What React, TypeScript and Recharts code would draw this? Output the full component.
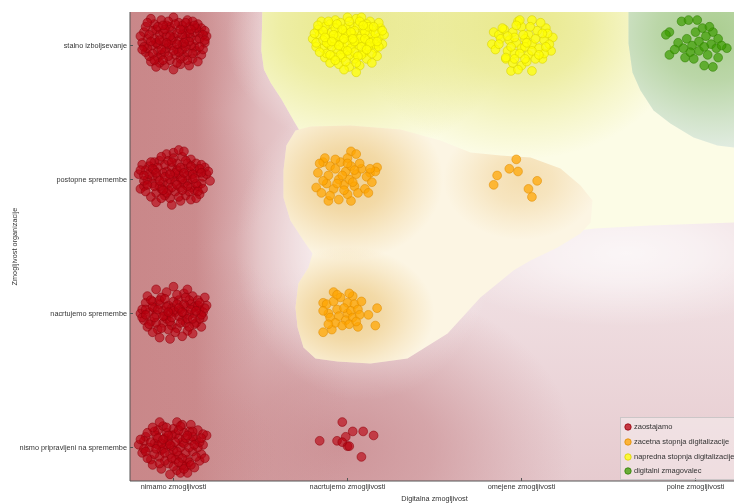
import React from 'react';
import { ScatterChart, Scatter, XAxis, YAxis, ReferenceArea, Legend } from 'recharts';

type Pt = [number, number];

const xCategories = ['nimamo zmogljivosti', 'nacrtujemo zmogljivosti', 'omejene zmogljivosti', 'polne zmogljivosti'];
const yCategories = ['nismo pripravljeni na spremembe', 'nacrtujemo spremembe', 'postopne spremembe', 'stalno izboljsevanje'];
const seriesNames = ['zaostajamo', 'zacetna stopnja digitalizacije', 'napredna stopnja digitalizacije', 'digitalni zmagovalec'];

// zaostajamo – jittered points
const zaostajamoStalno: Pt[] = [[-0.15,3.05],[-0.10,3.12],[-0.04,3.15],[0.03,3.17],[0.09,3.14],[0.15,3.10],[0.18,3.02],[0.13,2.96],[0.06,2.92],[-0.02,2.89],[-0.09,2.91],[-0.16,2.95],[-0.12,3.00],[-0.06,3.03],[0.00,3.06],[0.05,3.01],[0.10,3.06],[0.02,2.97],[-0.04,2.98],[-0.08,3.08],[0.07,3.09],[0.12,2.99],[-0.17,3.10],[-0.13,2.88],[-0.05,2.85],[0.04,2.86],[0.11,2.90],[0.16,2.93],[0.19,3.07],[-0.01,3.11],[-0.11,3.16],[0.00,3.21],[0.08,3.19],[-0.07,3.19],[0.14,3.16],[-0.18,3.02],[-0.14,2.92],[-0.03,3.01],[0.03,3.04],[0.08,2.95],[-0.09,2.96],[0.01,2.93],[-0.06,3.10],[0.06,3.12],[-0.12,3.11],[0.13,3.04],[-0.02,3.14],[0.10,3.00],[-0.15,2.98],[0.17,2.97],[0.04,2.90],[-0.08,2.87],[0.00,2.82],[-0.10,2.84],[0.09,2.85],[0.16,3.13],[-0.16,3.14],[-0.04,3.07],[0.02,3.09],[0.07,3.05],[-0.11,3.05],[0.12,3.10],[-0.01,3.00],[0.05,2.97],[-0.07,2.93],[0.18,3.11],[-0.19,3.07],[0.11,3.18],[-0.13,3.20],[0.05,3.15],[-0.05,2.95],[0.14,2.88],[-0.03,3.18],[0.09,3.09],[-0.09,3.01],
  [-0.17,2.99],[-0.14,3.08],[-0.12,2.94],[-0.10,3.02],[-0.07,2.97],[-0.05,3.12],[-0.03,2.92],[-0.01,3.04],[0.01,3.16],[0.03,2.95],[0.05,3.08],[0.07,2.99],[0.09,3.03],[0.11,2.94],[0.13,3.13],[0.15,3.05],[0.17,3.08],[-0.15,3.17],[-0.09,3.14],[-0.06,2.89],[0.02,2.87],[0.08,2.89],[0.12,3.15],[-0.02,3.07],[0.04,3.12],[-0.11,2.89],[0.15,2.99],[-0.18,2.97],[0.00,2.96],[-0.08,3.04],[0.06,3.02],[0.10,3.12],[-0.04,3.02],[0.02,3.01],[-0.13,3.03],[0.18,3.04],[-0.06,3.15],[0.07,3.17]];
const zaostajamoPostopne: Pt[] = [[-0.20,2.04],[-0.17,1.95],[-0.14,2.10],[-0.12,2.02],[-0.10,1.90],[-0.08,2.14],[-0.06,1.98],[-0.04,2.06],[-0.02,1.86],[0.00,2.02],[0.02,2.12],[0.04,1.94],[0.06,2.08],[0.08,1.99],[0.10,2.15],[0.12,1.92],[0.14,2.05],[0.16,1.97],[0.18,2.09],[0.21,1.99],[-0.18,2.11],[-0.15,2.00],[-0.13,1.87],[-0.11,2.07],[-0.07,1.93],[-0.05,2.11],[-0.03,1.97],[-0.01,2.09],[0.01,1.91],[0.03,2.04],[0.05,2.17],[0.07,1.88],[0.09,2.06],[0.11,2.00],[0.13,2.12],[0.15,1.89],[0.17,2.02],[-0.19,1.93],[-0.16,2.07],[-0.09,2.02],[-0.04,2.19],[0.00,2.20],[0.03,2.22],[0.06,2.21],[-0.07,2.17],[0.10,1.85],[0.04,1.84],[-0.01,1.81],[-0.10,1.83],[0.13,1.86],[-0.12,1.97],[0.08,2.03],[-0.02,2.00],[0.02,2.07],[-0.06,2.05],[0.12,2.08],[-0.14,2.04],[0.16,2.11],[0.19,2.04],[-0.08,1.95],[0.06,1.97],[-0.03,1.92],[0.10,1.94],[0.01,1.98],[-0.17,1.99],[0.14,1.95],[-0.05,1.88],[0.08,2.12],[-0.11,2.13],[0.04,2.01],
  [-0.19,2.07],[-0.16,1.91],[-0.13,2.13],[-0.11,1.95],[-0.09,2.09],[-0.07,1.86],[-0.05,2.02],[-0.03,2.14],[-0.01,1.94],[0.01,2.05],[0.03,1.87],[0.05,2.00],[0.07,2.14],[0.09,1.91],[0.11,2.04],[0.13,1.97],[0.15,2.08],[0.17,1.93],[0.20,2.06],[-0.15,1.96],[-0.12,2.08],[-0.08,1.99],[-0.04,1.90],[0.00,2.16],[0.04,2.09],[0.08,1.95],[0.12,2.01],[0.16,2.05],[-0.17,2.03],[-0.02,2.04],[0.02,1.96],[0.06,2.05],[-0.06,1.92],[0.10,2.10],[-0.10,2.05],[0.14,1.91],[-0.01,2.13],[0.05,1.92]];
const zaostajamoNacrtujemo: Pt[] = [[-0.19,1.00],[-0.16,1.08],[-0.13,0.94],[-0.11,1.04],[-0.09,0.88],[-0.07,1.12],[-0.05,0.98],[-0.03,1.06],[-0.01,0.91],[0.01,1.01],[0.03,1.10],[0.05,0.95],[0.07,1.05],[0.09,0.99],[0.11,1.13],[0.13,0.93],[0.15,1.03],[0.17,0.97],[0.19,1.06],[-0.17,0.95],[-0.14,1.01],[-0.12,0.86],[-0.08,1.07],[-0.06,0.93],[-0.04,1.16],[-0.02,1.00],[0.00,1.09],[0.02,0.89],[0.04,1.03],[0.06,1.15],[0.08,0.87],[0.10,1.07],[0.12,1.00],[0.14,1.10],[0.16,0.90],[-0.10,1.18],[0.00,1.20],[0.08,1.18],[-0.02,0.81],[0.05,0.83],[-0.08,0.82],[0.11,0.85],[-0.15,1.13],[0.18,1.12],[-0.04,0.96],[0.03,0.98],[-0.10,0.99],[0.07,0.93],[-0.01,1.04],[0.12,1.05],[-0.06,1.02],[0.15,0.96],[-0.12,1.09],[0.02,1.14],[-0.18,1.03],[0.09,1.10],[-0.03,0.88],[0.06,1.00],[-0.15,0.90],[0.17,1.01],
  [-0.18,0.97],[-0.16,1.03],[-0.14,0.92],[-0.12,1.05],[-0.10,0.93],[-0.08,1.10],[-0.06,0.98],[-0.04,1.05],[-0.02,0.94],[0.00,1.02],[0.02,1.07],[0.04,0.93],[0.06,1.07],[0.08,0.96],[0.10,1.03],[0.12,0.92],[0.14,1.06],[0.16,0.99],[0.18,1.04],[-0.13,1.10],[-0.09,1.03],[-0.05,1.11],[-0.01,0.97],[0.03,1.04],[0.07,1.12],[0.11,0.96],[0.15,1.08],[-0.07,0.89],[0.01,0.86],[0.09,0.90],[-0.11,0.97],[0.05,1.01],[-0.03,1.01],[0.13,1.02],[-0.16,0.99]];
const zaostajamoNismo: Pt[] = [[-0.20,0.02],[-0.18,-0.04],[-0.16,0.08],[-0.13,-0.09],[-0.11,0.03],[-0.09,0.13],[-0.07,-0.02],[-0.05,0.07],[-0.03,-0.12],[-0.01,0.01],[0.01,0.10],[0.03,-0.06],[0.05,0.04],[0.07,-0.14],[0.09,0.12],[0.11,-0.03],[0.13,0.06],[0.15,-0.10],[0.17,0.02],[0.19,0.09],[-0.17,0.05],[-0.14,0.00],[-0.12,-0.13],[-0.10,0.09],[-0.08,-0.07],[-0.06,0.16],[-0.04,0.02],[-0.02,-0.05],[0.00,0.14],[0.02,-0.17],[0.04,0.00],[0.06,0.11],[0.08,-0.09],[0.10,0.05],[0.12,-0.15],[0.14,0.13],[0.16,-0.05],[-0.08,0.19],[0.02,0.19],[0.10,0.17],[0.05,0.17],[-0.02,-0.20],[0.04,-0.19],[-0.07,-0.16],[0.08,-0.19],[-0.15,-0.08],[0.18,-0.08],[-0.03,0.05],[0.00,-0.02],[0.06,0.03],[-0.09,0.02],[0.11,0.08],[-0.05,-0.10],[0.03,0.07],[-0.11,0.12],[0.14,0.00],[-0.01,0.09],[0.07,-0.04],[-0.04,0.11],[0.01,-0.09],[-0.06,-0.01],[0.09,-0.11],[0.05,-0.13],
  [-0.19,0.06],[-0.17,-0.01],[-0.15,0.11],[-0.13,0.04],[-0.11,-0.05],[-0.09,0.07],[-0.07,0.03],[-0.05,-0.04],[-0.03,0.09],[-0.01,-0.08],[0.01,0.04],[0.03,0.13],[0.05,-0.08],[0.07,0.07],[0.09,0.00],[0.11,0.12],[0.13,-0.07],[0.15,0.04],[0.17,0.10],[-0.12,0.15],[-0.04,0.15],[0.04,0.16],[0.12,0.02],[-0.08,-0.12],[0.00,-0.14],[0.06,-0.16],[0.10,-0.13],[-0.02,0.02],[0.02,-0.03],[-0.06,0.06],[0.08,0.09],[-0.10,-0.01],[0.16,0.07],[-0.16,-0.03],[0.03,-0.11]];
const zaostajamoDigital: Pt[] = [[0.84,0.05],[0.97,0.19],[1.03,0.12],[1.09,0.12],[1.15,0.09],[0.94,0.05],[0.99,0.08],[0.97,0.04],[1.00,0.01],[1.01,0.01],[1.08,-0.07]];

// zacetna stopnja digitalizacije
const zacetnaPostopne: Pt[] = [[1.02,2.21],[1.05,2.19],[1.00,2.16],[0.86,2.13],[0.83,2.05],[0.82,1.94],[0.89,1.84],[1.02,1.84],[1.17,2.09],[1.13,2.05],[0.87,2.16],[0.84,2.12],[0.90,2.10],[0.93,2.08],[0.96,2.13],[0.99,2.06],[1.02,2.10],[1.05,2.04],[1.08,2.08],[1.11,2.02],[1.14,1.98],[1.16,2.06],[0.95,2.00],[0.98,1.96],[1.01,2.00],[1.04,1.95],[0.92,1.93],[0.88,1.97],[0.85,1.90],[0.90,1.88],[0.95,1.85],[1.00,1.89],[1.06,1.90],[1.10,1.93],[1.13,2.08],[0.97,2.03],[1.03,1.98],[0.93,2.15],[1.00,2.12],[1.07,2.12],[0.89,2.03],[0.86,1.99],[1.12,1.90],[0.98,1.92],[1.04,2.07],[0.94,1.97]];
const zacetnaNacrtujemo: Pt[] = [[0.92,1.16],[1.03,1.13],[0.86,1.08],[1.17,1.04],[1.12,0.99],[1.16,0.91],[1.06,0.90],[0.86,0.86],[0.91,0.88],[1.00,1.00],[0.89,1.00],[0.88,1.07],[0.92,1.09],[0.96,1.12],[1.00,1.08],[1.04,1.07],[1.08,1.09],[0.94,1.03],[0.98,1.04],[1.02,1.02],[1.06,1.03],[0.90,0.97],[0.95,0.98],[0.99,0.95],[1.03,0.97],[1.07,0.99],[0.93,0.93],[0.97,0.91],[1.01,0.92],[1.05,0.94],[0.89,0.92],[0.94,1.14],[1.01,1.15],[0.86,1.02]];
const zacetnaOmejene: Pt[] = [[1.97,2.15],[1.93,2.08],[1.98,2.06],[1.86,2.03],[1.84,1.96],[2.09,1.99],[2.04,1.93],[2.06,1.87]];

// napredna stopnja digitalizacije
const naprednaNacrtujemo: Pt[] = [[0.80,3.05],[0.83,3.12],[0.86,2.98],[0.88,3.08],[0.90,3.16],[0.92,2.92],[0.94,3.02],[0.96,3.10],[0.98,2.96],[1.00,3.06],[1.02,3.14],[1.04,2.90],[1.06,3.00],[1.08,3.08],[1.10,2.95],[1.12,3.04],[1.14,3.12],[1.16,2.98],[1.18,3.06],[1.20,3.01],[0.82,2.99],[0.85,3.18],[0.87,2.91],[0.89,3.01],[0.91,3.10],[0.93,3.19],[0.95,2.86],[0.97,3.04],[0.99,3.13],[1.01,2.93],[1.03,3.02],[1.05,3.20],[1.07,2.85],[1.09,3.12],[1.11,2.90],[1.13,3.18],[1.15,3.05],[1.17,2.92],[1.19,3.13],[0.84,3.08],[0.92,3.05],[0.97,2.99],[1.00,3.01],[1.03,3.08],[1.06,3.15],[1.09,3.03],[1.12,2.99],[0.88,2.94],[0.94,2.97],[1.01,2.84],[0.98,2.82],[1.05,2.80],[0.90,2.87],[1.14,2.87],[1.00,3.21],[0.96,3.17],[1.08,3.21],[1.11,3.16],[0.87,3.14],[1.18,3.17],[0.82,3.02],[1.21,3.08],[0.95,3.07],[1.02,2.98],[1.07,3.05],[0.91,2.99],[1.04,3.11],[0.99,3.09],[1.13,3.09],[0.86,3.04],[1.16,3.01],[0.93,3.13],[1.10,3.10],[0.97,2.91],[1.04,2.95],[1.08,2.93],
  [0.81,3.09],[0.84,2.95],[0.86,3.11],[0.88,3.02],[0.90,2.93],[0.92,3.08],[0.94,3.16],[0.96,2.93],[0.98,3.05],[1.00,2.96],[1.02,3.10],[1.04,3.03],[1.06,2.92],[1.08,2.99],[1.10,3.05],[1.12,3.14],[1.14,2.94],[1.16,3.09],[1.18,2.99],[1.20,3.11],[0.83,3.15],[0.89,3.18],[0.95,3.00],[1.01,3.18],[1.07,3.18],[1.13,3.02],[0.93,2.89],[0.99,2.88],[1.05,2.87],[1.11,2.97],[0.87,3.06],[1.03,3.05],[0.97,3.12],[1.09,3.15],[1.15,3.14],[0.91,3.03],[1.17,3.03]];
const naprednaOmejene: Pt[] = [[1.84,3.10],[1.87,3.08],[1.98,3.18],[2.06,3.19],[2.14,3.13],[2.18,3.06],[2.17,2.96],[2.12,2.90],[2.06,2.81],[1.94,2.81],[1.91,2.90],[1.83,3.01],[1.85,2.97],[1.90,3.12],[1.95,3.10],[2.00,3.14],[2.04,3.08],[2.09,3.11],[2.13,3.04],[1.93,3.04],[1.97,3.02],[2.02,3.05],[2.06,3.01],[2.10,2.98],[1.92,2.96],[1.96,2.94],[2.00,2.98],[2.04,2.93],[2.08,2.90],[2.13,2.94],[1.95,2.87],[2.00,2.85],[2.03,2.88],[1.88,3.05],[2.16,3.01],[1.99,3.19],[2.11,3.17],[1.96,3.06],[2.02,2.99],[1.91,2.91],[2.06,2.96],[2.15,3.09],[1.98,2.82],
  [1.87,3.01],[1.89,3.13],[1.92,3.07],[1.94,2.99],[1.97,3.15],[1.99,2.94],[2.01,3.08],[2.03,3.02],[2.05,3.14],[2.08,3.05],[2.10,2.93],[2.12,3.09],[2.14,2.99],[2.02,2.90],[1.96,2.90]];

// digitalni zmagovalec
const zmagovalecPolne: Pt[] = [[2.85,3.10],[2.83,3.08],[2.92,3.18],[2.96,3.19],[3.01,3.19],[3.10,3.10],[3.18,2.98],[3.10,2.84],[3.05,2.85],[2.85,2.93],[2.94,2.91],[2.90,3.02],[2.95,3.05],[2.98,3.00],[3.02,3.03],[3.06,3.07],[3.09,3.01],[3.13,3.05],[2.97,2.95],[3.02,2.96],[3.07,2.93],[3.12,2.98],[2.93,2.98],[3.00,3.10],[3.04,3.13],[3.15,3.00],[2.99,2.90],[3.05,2.99],[2.88,2.97],[3.08,3.14],[3.13,2.91]];

const toRows = (pts: Pt[]) => pts.map(([x, y]) => ({ x, y }));
const zaostajamo = toRows([...zaostajamoStalno, ...zaostajamoPostopne, ...zaostajamoNacrtujemo, ...zaostajamoNismo, ...zaostajamoDigital]);
const zacetna = toRows([...zacetnaPostopne, ...zacetnaNacrtujemo, ...zacetnaOmejene]);
const napredna = toRows([...naprednaNacrtujemo, ...naprednaOmejene]);
const zmagovalec = toRows(zmagovalecPolne);

// class-density region outlines (data coordinates)
const yellowRegion: Pt[] = [[0.511,3.25],[0.505,2.963],[0.52,2.82],[0.56,2.72],[0.62,2.60],[0.69,2.44],[0.80,2.20],[1.50,2.00],[2.20,1.75],[2.33,1.62],[2.42,1.634],[2.74,1.657],[3.25,1.68],[3.25,3.25]];
const greenRegion: Pt[] = [[2.615,3.25],[2.615,3.015],[2.638,2.799],[2.684,2.664],[2.759,2.515],[2.856,2.418],[2.989,2.313],[3.126,2.254],[3.25,2.235],[3.25,3.25]];
const orangeRegion: Pt[] = [[0.632,2.067],[0.632,1.866],[0.672,1.694],[0.747,1.545],[0.799,1.448],[0.776,1.343],[0.718,1.224],[0.701,1.045],[0.713,0.896],[0.747,0.746],[0.816,0.664],[0.943,0.642],[1.132,0.627],[1.345,0.664],[1.575,0.851],[1.764,1.119],[1.954,1.321],[2.052,1.396],[2.207,1.493],[2.339,1.597],[2.397,1.679],[2.408,1.843],[2.339,1.955],[2.224,2.082],[2.052,2.164],[1.879,2.179],[1.707,2.201],[1.534,2.291],[1.305,2.373],[1.017,2.403],[0.787,2.396],[0.701,2.366],[0.649,2.254]];

type Glow = { c: Pt; r: Pt; color: string; op: number };
const redGlows: Glow[] = [
  { c: [0.95, 0.0], r: [1.35, 1.25], color: '#c98a8e', op: 0.85 },
  { c: [0, 3], r: [0.6, 0.55], color: '#c98789', op: 0.25 },
  { c: [0, 2], r: [0.6, 0.55], color: '#c98789', op: 0.25 },
  { c: [0, 1], r: [0.6, 0.55], color: '#c98789', op: 0.25 },
  { c: [0, 0], r: [0.6, 0.55], color: '#c98789', op: 0.25 },
];
const whiteGlows: Glow[] = [
  { c: [1.05, 3.05], r: [0.75, 0.8], color: '#ffffff', op: 0.85 },
  { c: [1.1, 1.5], r: [0.75, 1.15], color: '#ffffff', op: 0.7 },
  { c: [2.6, 1.45], r: [1.1, 0.55], color: '#ffffff', op: 0.7 },
];
const yellowGlows: Glow[] = [
  { c: [1.0, 3.15], r: [0.95, 1.0], color: '#e8e88a', op: 1 },
  { c: [2.0, 3.15], r: [0.95, 1.0], color: '#e8e88a', op: 1 },
];
const greenGlows: Glow[] = [{ c: [3.1, 3.1], r: [0.8, 0.9], color: '#a8cc8c', op: 0.95 }];
const orangeGlows: Glow[] = [
  { c: [1.0, 2.0], r: [0.55, 0.6], color: '#efcf90', op: 1 },
  { c: [1.0, 1.0], r: [0.5, 0.5], color: '#efcf90', op: 1 },
  { c: [2.0, 2.0], r: [0.45, 0.45], color: '#efcf90', op: 0.6 },
];

const FONT = '"Liberation Sans", Arial, sans-serif';
const DOMAIN: [number, number] = [-0.25, 3.25];
const TICKS = [0, 1, 2, 3];

const STYLES = [
  { fill: '#b8000e', stroke: '#94000b', fo: 0.62 },
  { fill: '#ffa500', stroke: '#e08c00', fo: 0.72 },
  { fill: '#ffff00', stroke: '#d8d000', fo: 0.72 },
  { fill: '#3c9c00', stroke: '#2f8000', fo: 0.7 },
];

function Background(props: any) {
  const { x, y, width, height } = props;
  const span = DOMAIN[1] - DOMAIN[0];
  const sx = width / span;
  const sy = height / span;
  const px = (v: number) => x + (v - DOMAIN[0]) * sx;
  const py = (v: number) => y + (DOMAIN[1] - v) * sy;
  const path = (pts: Pt[]) =>
    pts.map((p, i) => `${i ? 'L' : 'M'}${px(p[0]).toFixed(1)},${py(p[1]).toFixed(1)}`).join('') + 'Z';
  let gid = 0;
  const defs: React.ReactElement[] = [];
  const glow = (g: Glow) => {
    const id = `bgglow${gid++}`;
    defs.push(
      <radialGradient id={id} key={id}>
        <stop offset="0" stopColor={g.color} stopOpacity={g.op} />
        <stop offset="0.4" stopColor={g.color} stopOpacity={g.op * 0.72} />
        <stop offset="0.75" stopColor={g.color} stopOpacity={g.op * 0.28} />
        <stop offset="1" stopColor={g.color} stopOpacity={0} />
      </radialGradient>
    );
    return <ellipse key={id + 'e'} cx={px(g.c[0])} cy={py(g.c[1])} rx={g.r[0] * sx} ry={g.r[1] * sy} fill={`url(#${id})`} />;
  };
  const redEls = redGlows.map(glow);
  const whiteEls = whiteGlows.map(glow);
  const yellowEls = yellowGlows.map(glow);
  const greenEls = greenGlows.map(glow);
  const orangeEls = orangeGlows.map(glow);
  return (
    <g>
      <defs>
        <linearGradient id="bgLeftRed" gradientUnits="userSpaceOnUse" x1={px(-0.25)} x2={px(1.0)} y1={0} y2={0}>
          <stop offset="0" stopColor="#c98789" stopOpacity={1} />
          <stop offset="0.3" stopColor="#c98789" stopOpacity={0.95} />
          <stop offset="0.6" stopColor="#c98789" stopOpacity={0.4} />
          <stop offset="1" stopColor="#c98789" stopOpacity={0} />
        </linearGradient>
        <linearGradient id="bgBottom" gradientUnits="userSpaceOnUse" x1={0} x2={0} y1={py(-0.25)} y2={py(1.35)}>
          <stop offset="0" stopColor="#e6cbcf" stopOpacity={1} />
          <stop offset="1" stopColor="#e6cbcf" stopOpacity={0} />
        </linearGradient>
        <clipPath id="clipPlot"><rect x={x} y={y} width={width} height={height} /></clipPath>
        <clipPath id="clipYellow"><path d={path(yellowRegion)} /></clipPath>
        <clipPath id="clipGreen"><path d={path(greenRegion)} /></clipPath>
        <clipPath id="clipOrange"><path d={path(orangeRegion)} /></clipPath>
        {defs}
      </defs>
      <g clipPath="url(#clipPlot)">
        <rect x={x} y={y} width={width} height={height} fill="#f1e1e4" />
        <rect x={x} y={y} width={width} height={height} fill="url(#bgBottom)" />
        {redEls[0]}
        <rect x={x} y={y} width={width} height={height} fill="url(#bgLeftRed)" />
        {redEls.slice(1)}
        {whiteEls}
        <path d={path(yellowRegion)} fill="#fcfce6" />
        <g clipPath="url(#clipYellow)">{yellowEls}</g>
        <path d={path(greenRegion)} fill="#e3ede4" />
        <g clipPath="url(#clipGreen)">{greenEls}</g>
        <path d={path(orangeRegion)} fill="#fcf5e3" />
        <g clipPath="url(#clipOrange)">{orangeEls}</g>
      </g>
    </g>
  );
}

const makeDot = (i: number) => (p: any) => (
  <circle cx={p.cx} cy={p.cy} r={4.4} fill={STYLES[i].fill} fillOpacity={STYLES[i].fo}
    stroke={STYLES[i].stroke} strokeOpacity={0.7} strokeWidth={0.8} />
);

const XTick = (p: any) => {
  const { x, y, payload } = p;
  const axisY = y - 3;
  return (
    <g>
      <line x1={x} x2={x} y1={axisY} y2={axisY - 3} stroke="#555" />
      <text x={x} y={y} dy="0.71em" textAnchor="middle" fontSize={7.3} fontFamily={FONT} fill="#333" opacity={0.99}>
        {xCategories[payload.value]}
      </text>
    </g>
  );
};

const YTick = (p: any) => {
  const { x, y, payload } = p;
  const axisX = x + 3;
  return (
    <g>
      <line x1={axisX} x2={axisX + 3} y1={y} y2={y} stroke="#555" />
      <text x={x} y={y} dy="0.355em" textAnchor="end" fontSize={7.3} fontFamily={FONT} fill="#333" opacity={0.99}>
        {yCategories[payload.value]}
      </text>
    </g>
  );
};

const LegendBox = () => (
  <div style={{ border: '1px solid #cbc6c7', background: 'rgba(255,255,255,0.35)', padding: '2px 10px 2px 3px',
    fontFamily: FONT, fontSize: 7.5, color: '#333', width: 140, height: 63, boxSizing: 'border-box' }}>
    {seriesNames.map((n, i) => (
      <div key={n} style={{ display: 'flex', alignItems: 'center', height: 14.7 }}>
        <svg width={8} height={8} style={{ flex: 'none' }}>
          <circle cx={4} cy={4} r={3.2} fill={STYLES[i].fill} fillOpacity={0.75} stroke={STYLES[i].stroke} strokeWidth={0.8} />
        </svg>
        <span style={{ marginLeft: 2, whiteSpace: 'nowrap', lineHeight: '8px' }}>{n}</span>
      </div>
    ))}
  </div>
);

export default function App() {
  return (
    <div style={{ position: 'fixed', left: 8, top: 8, width: 726, height: 496, overflow: 'hidden' }}>
      <ScatterChart width={740} height={496} margin={{ top: 4, right: 9, bottom: 0, left: 0 }} style={{ fontFamily: FONT }}>
        <XAxis type="number" dataKey="x" domain={DOMAIN} ticks={TICKS} interval={0} height={23}
          tickLine={false} tickSize={0} tickMargin={3} axisLine={{ stroke: '#555' }} tick={XTick} allowDataOverflow
          label={{ value: 'Digitalna zmogljivost', position: 'insideBottom', offset: 3, fill: '#333', fontSize: 7.3, fontFamily: FONT }} />
        <YAxis type="number" dataKey="y" domain={DOMAIN} ticks={TICKS} interval={0} width={122}
          tickLine={false} tickSize={0} tickMargin={3} axisLine={{ stroke: '#555' }} tick={YTick} allowDataOverflow
          label={{ value: 'Zmogljivost organizacije', angle: -90, position: 'insideLeft', offset: 6, fill: '#333', fontSize: 7.3, fontFamily: FONT, style: { textAnchor: 'middle' } }} />
        <ReferenceArea x1={DOMAIN[0]} x2={DOMAIN[1]} y1={DOMAIN[0]} y2={DOMAIN[1]} shape={(p: any) => <Background {...p} />} />
        <Scatter name={seriesNames[0]} data={zaostajamo} shape={makeDot(0)} isAnimationActive={false} />
        <Scatter name={seriesNames[1]} data={zacetna} shape={makeDot(1)} isAnimationActive={false} />
        <Scatter name={seriesNames[2]} data={napredna} shape={makeDot(2)} isAnimationActive={false} />
        <Scatter name={seriesNames[3]} data={zmagovalec} shape={makeDot(3)} isAnimationActive={false} />
        <Legend layout="vertical" align="center" verticalAlign="middle" content={LegendBox}
          wrapperStyle={{ left: 612, top: 409, width: 140 }} />
      </ScatterChart>
    </div>
  );
}
